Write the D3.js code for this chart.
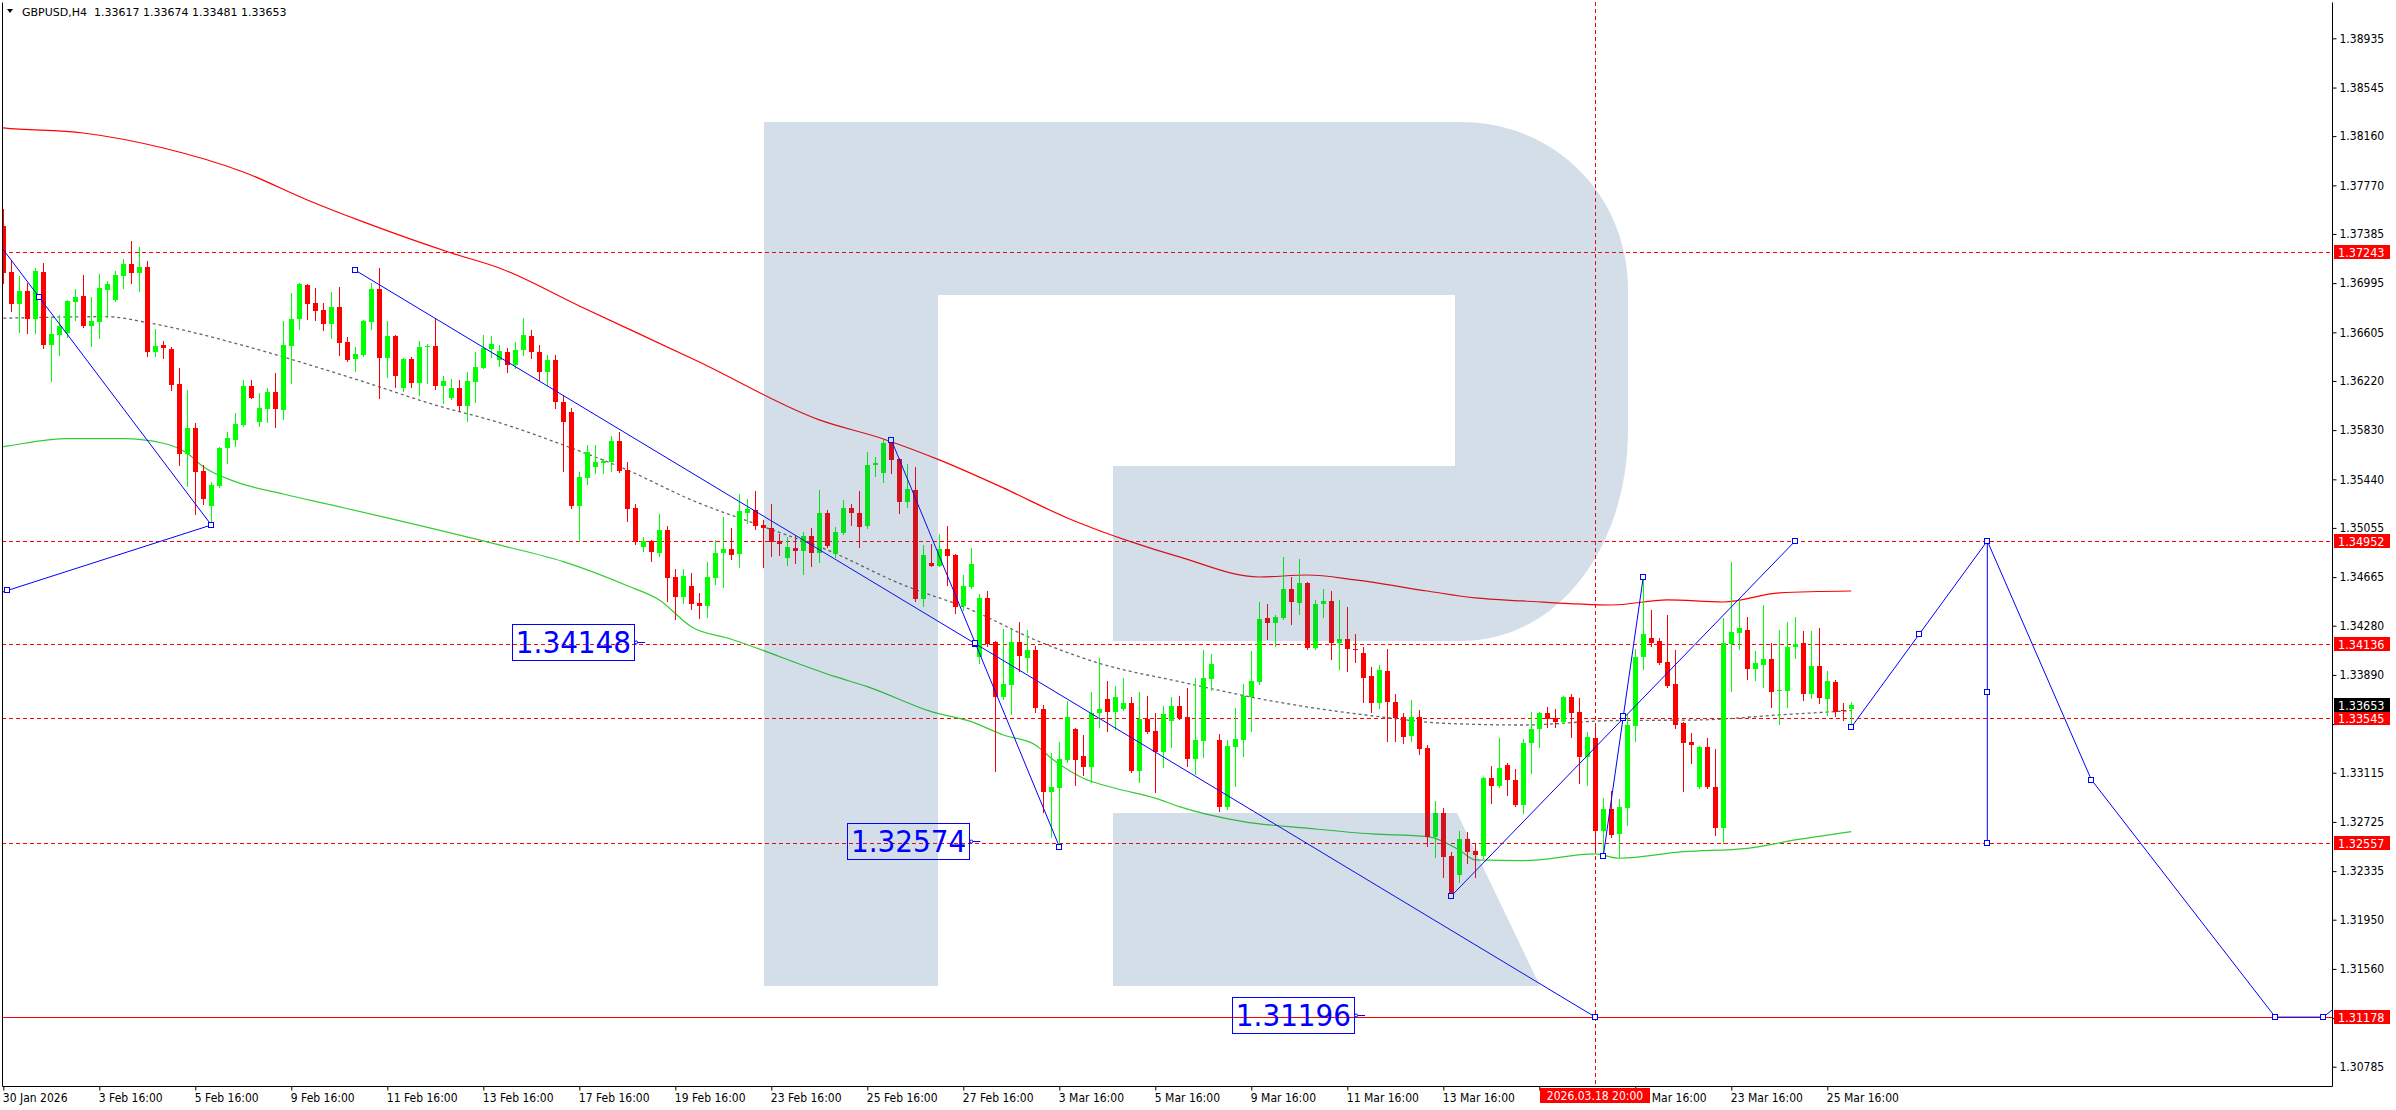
<!DOCTYPE html>
<html><head><meta charset="utf-8">
<script src="https://cdn.jsdelivr.net/npm/d3@7"></script>
<style>
body{margin:0;background:#fff;}
svg{display:block}
text{font-family:"DejaVu Sans Condensed","DejaVu Sans",sans-serif;font-stretch:condensed;}
text.hdr{font-family:"DejaVu Sans",sans-serif;font-stretch:normal;}
</style></head>
<body>
<svg id="c" width="2396" height="1110"></svg>
<script>
// ---------- DATA ----------
const symbolTitle = "GBPUSD,H4";
const lastBar = [1.33617, 1.33674, 1.33481, 1.33653];
// H4 candles [open, high, low, close], bar index = position
const candles = [
[1.37448,1.37583,1.36994,1.37078],[1.37086,1.37171,1.36774,1.36832],[1.36832,1.37052,1.36610,1.36935],[1.36935,1.36994,1.36598,1.36709],
[1.36709,1.37115,1.36602,1.37091],[1.37086,1.37152,1.36484,1.36505],[1.36505,1.36729,1.36220,1.36592],[1.36584,1.36743,1.36426,1.36658],
[1.36598,1.36862,1.36571,1.36856],[1.36848,1.36946,1.36703,1.36885],[1.36893,1.37060,1.36650,1.36655],[1.36655,1.36888,1.36499,1.36695],
[1.36690,1.37068,1.36558,1.36959],[1.36941,1.37012,1.36724,1.36988],[1.36862,1.37091,1.36854,1.37060],[1.37052,1.37184,1.36959,1.37147],
[1.37147,1.37329,1.36999,1.37078],[1.37078,1.37284,1.36933,1.37123],[1.37123,1.37171,1.36420,1.36452],[1.36452,1.36632,1.36420,1.36497],
[1.36505,1.36539,1.36404,1.36479],[1.36473,1.36487,1.36148,1.36188],[1.36196,1.36320,1.35554,1.35641],[1.35641,1.36148,1.35390,1.35845],
[1.35845,1.35889,1.35163,1.35501],[1.35506,1.35554,1.35242,1.35284],[1.35231,1.35422,1.35078,1.35395],[1.35390,1.35697,1.35380,1.35686],
[1.35686,1.35813,1.35567,1.35766],[1.35752,1.35964,1.35704,1.35879],[1.35871,1.36228,1.35863,1.36180],[1.36180,1.36228,1.36083,1.36087],
[1.35897,1.36122,1.35863,1.36003],[1.35998,1.36162,1.35897,1.36135],[1.36130,1.36281,1.35857,1.35998],[1.35990,1.36695,1.35918,1.36505],
[1.36499,1.36915,1.36206,1.36711],[1.36709,1.36999,1.36632,1.36988],[1.36980,1.36990,1.36709,1.36830],[1.36835,1.36959,1.36703,1.36774],
[1.36782,1.36835,1.36624,1.36671],[1.36671,1.36927,1.36563,1.36804],[1.36804,1.36962,1.36426,1.36523],[1.36526,1.36566,1.36378,1.36386],
[1.36392,1.36491,1.36301,1.36434],[1.36426,1.36700,1.36420,1.36695],[1.36690,1.36994,1.36632,1.36946],[1.36946,1.37117,1.36087,1.36404],
[1.36404,1.36695,1.36254,1.36576],[1.36579,1.36584,1.36174,1.36262],[1.36166,1.36400,1.36143,1.36394],[1.36394,1.36412,1.36170,1.36206],
[1.36206,1.36539,1.36109,1.36487],[1.36487,1.36513,1.36206,1.36499],[1.36497,1.36717,1.36154,1.36182],[1.36182,1.36259,1.36043,1.36220],
[1.36087,1.36233,1.36075,1.36162],[1.36162,1.36228,1.35982,1.36024],[1.36024,1.36289,1.35903,1.36220],[1.36214,1.36452,1.36056,1.36328],
[1.36325,1.36584,1.36320,1.36484],[1.36471,1.36576,1.36407,1.36513],[1.36386,1.36505,1.36338,1.36457],[1.36449,1.36481,1.36291,1.36346],
[1.36346,1.36529,1.36323,1.36465],[1.36465,1.36719,1.36426,1.36584],[1.36576,1.36624,1.36402,1.36449],[1.36449,1.36505,1.36228,1.36291],
[1.36291,1.36426,1.36188,1.36386],[1.36386,1.36426,1.36006,1.36053],[1.36053,1.36109,1.35509,1.35897],[1.35974,1.36006,1.35213,1.35231],
[1.35231,1.35496,1.34952,1.35456],[1.35453,1.35712,1.35401,1.35655],[1.35540,1.35712,1.35493,1.35575],[1.35572,1.35599,1.35488,1.35586],
[1.35580,1.35784,1.35509,1.35744],[1.35744,1.35818,1.35500,1.35509],[1.35514,1.35575,1.35112,1.35205],[1.35211,1.35245,1.34928,1.34946],
[1.34906,1.34986,1.34875,1.34954],[1.34954,1.34960,1.34796,1.34862],[1.34859,1.35163,1.34833,1.35039],[1.35039,1.35070,1.34476,1.34661],
[1.34669,1.34730,1.34331,1.34510],[1.34510,1.34727,1.34463,1.34674],[1.34597,1.34696,1.34410,1.34452],[1.34463,1.34537,1.34339,1.34439],
[1.34439,1.34783,1.34352,1.34669],[1.34661,1.34960,1.34608,1.34854],[1.34854,1.35139,1.34589,1.34888],[1.34888,1.35057,1.34807,1.34841],
[1.34849,1.35324,1.34743,1.35192],[1.35176,1.35284,1.35092,1.35203],[1.35197,1.35350,1.35047,1.35073],[1.35078,1.35118,1.34748,1.35052],
[1.35057,1.35245,1.34833,1.34946],[1.34952,1.35007,1.34841,1.34925],[1.34815,1.34981,1.34761,1.34902],[1.34899,1.34999,1.34780,1.34875],
[1.34875,1.35021,1.34690,1.34991],[1.34991,1.35052,1.34756,1.34854],[1.34854,1.35356,1.34788,1.35176],[1.35171,1.35197,1.34900,1.34914],
[1.34849,1.35065,1.34827,1.35025],[1.35017,1.35277,1.35007,1.35211],[1.35211,1.35245,1.35078,1.35171],[1.35171,1.35348,1.34902,1.35065],
[1.35070,1.35655,1.35052,1.35554],[1.35554,1.35620,1.35469,1.35572],[1.35493,1.35752,1.35422,1.35731],[1.35731,1.35752,1.35488,1.35594],
[1.35601,1.35610,1.35176,1.35263],[1.35263,1.35559,1.35223,1.35361],[1.35356,1.35540,1.34479,1.34492],[1.34492,1.34920,1.34436,1.34841],
[1.34780,1.34928,1.34750,1.34756],[1.34756,1.35005,1.34750,1.34888],[1.34888,1.35070,1.34603,1.34835],[1.34841,1.34850,1.34383,1.34431],
[1.34436,1.34682,1.34405,1.34595],[1.34589,1.34899,1.34580,1.34769],[1.34030,1.34532,1.33982,1.34497],[1.34497,1.34555,1.34120,1.34133],
[1.34149,1.34160,1.33131,1.33713],[1.33713,1.34254,1.33700,1.33816],[1.33810,1.34254,1.33581,1.34149],[1.34149,1.34307,1.33924,1.34043],
[1.34027,1.34246,1.33916,1.34088],[1.34088,1.34119,1.33599,1.33626],[1.33620,1.33652,1.32806,1.32965],[1.32965,1.33269,1.32603,1.33000],
[1.32996,1.33361,1.32560,1.33222],[1.33216,1.33686,1.33200,1.33554],[1.33459,1.33470,1.33018,1.33216],[1.33248,1.33414,1.33097,1.33163],
[1.33163,1.33753,1.33044,1.33591],[1.33591,1.34022,1.33475,1.33618],[1.33697,1.33842,1.33448,1.33599],[1.33599,1.33802,1.33459,1.33718],
[1.33618,1.33863,1.33610,1.33665],[1.33665,1.33718,1.33123,1.33131],[1.33131,1.33753,1.33044,1.33539],[1.33539,1.33726,1.33430,1.33440],
[1.33446,1.33591,1.32965,1.33282],[1.33282,1.33644,1.33163,1.33578],[1.33525,1.33718,1.33321,1.33644],[1.33644,1.33723,1.33540,1.33551],
[1.33554,1.33789,1.33171,1.33224],[1.33224,1.33868,1.33103,1.33375],[1.33367,1.34088,1.33242,1.33868],[1.33858,1.34056,1.33771,1.33977],
[1.33375,1.33422,1.32814,1.32846],[1.32846,1.33375,1.32830,1.33327],[1.33321,1.33626,1.33012,1.33382],[1.33375,1.33818,1.33250,1.33726],
[1.33718,1.34080,1.33446,1.33842],[1.33837,1.34466,1.33818,1.34333],[1.34339,1.34452,1.34173,1.34299],[1.34299,1.34365,1.34122,1.34347],
[1.34344,1.34827,1.34330,1.34571],[1.34571,1.34664,1.34291,1.34471],[1.34463,1.34809,1.34371,1.34616],[1.34621,1.34629,1.34096,1.34106],
[1.34106,1.34484,1.34093,1.34452],[1.34450,1.34569,1.34352,1.34476],[1.34476,1.34555,1.34014,1.34146],[1.34146,1.34484,1.33935,1.34173],
[1.34173,1.34426,1.33924,1.34093],[1.34096,1.34212,1.33995,1.34088],[1.34062,1.34109,1.33678,1.33868],[1.33882,1.33951,1.33599,1.33670],
[1.33670,1.33969,1.33626,1.33929],[1.33921,1.34096,1.33369,1.33678],[1.33673,1.33737,1.33369,1.33551],[1.33554,1.33586,1.33348,1.33401],
[1.33409,1.33692,1.33369,1.33554],[1.33554,1.33612,1.33264,1.33303],[1.33309,1.33335,1.32534,1.32608],[1.32608,1.32894,1.32450,1.32794],
[1.32794,1.32838,1.32291,1.32450],[1.32455,1.32489,1.32138,1.32160],[1.32305,1.32653,1.32247,1.32588],[1.32588,1.32648,1.32397,1.32489],
[1.32495,1.32556,1.32291,1.32463],[1.32455,1.33084,1.32440,1.33071],[1.33071,1.33168,1.32878,1.33012],[1.33012,1.33388,1.33000,1.33150],
[1.33176,1.33190,1.32939,1.33058],[1.33058,1.33142,1.32851,1.32859],[1.32859,1.33382,1.32794,1.33348],[1.33348,1.33594,1.33111,1.33462],
[1.33459,1.33594,1.33321,1.33586],[1.33586,1.33638,1.33475,1.33539],[1.33547,1.33618,1.33480,1.33520],[1.33520,1.33725,1.33507,1.33718],
[1.33718,1.33739,1.33401,1.33591],[1.33594,1.33710,1.33031,1.33242],[1.33242,1.33440,1.33018,1.33396],[1.33388,1.33507,1.32489,1.32656],
[1.32656,1.32913,1.32489,1.32828],[1.32828,1.32973,1.32608,1.32622],[1.32630,1.32905,1.32445,1.32841],[1.32838,1.33581,1.32701,1.33493],
[1.33488,1.34093,1.33369,1.34030],[1.34030,1.34667,1.33935,1.34215],[1.34181,1.34405,1.34122,1.34146],[1.34162,1.34181,1.33975,1.33982],
[1.33990,1.34365,1.33792,1.33805],[1.33818,1.34088,1.33467,1.33493],[1.33507,1.33515,1.32973,1.33353],[1.33361,1.33432,1.33190,1.33335],
[1.33000,1.33330,1.32990,1.33321],[1.33321,1.33388,1.32990,1.33000],[1.33000,1.33303,1.32622,1.32680],[1.32680,1.34339,1.32556,1.34141],
[1.34135,1.34788,1.33765,1.34233],[1.34225,1.34502,1.34093,1.34265],[1.34246,1.34347,1.33856,1.33935],[1.33935,1.34082,1.33850,1.33982],
[1.33969,1.34444,1.33792,1.34016],[1.34016,1.34141,1.33638,1.33757],[1.33763,1.34246,1.33501,1.33771],[1.33763,1.34312,1.33634,1.34114],
[1.34114,1.34347,1.34027,1.34133],[1.34146,1.34241,1.33692,1.33739],[1.33739,1.34241,1.33705,1.33961],[1.33961,1.34265,1.33670,1.33710],
[1.33699,1.33921,1.33573,1.33845],[1.33837,1.33850,1.33565,1.33599],[1.33612,1.33665,1.33533,1.33604],[1.33617,1.33674,1.33481,1.33653]
];
// moving averages: [bar index, price]
const maRed = [[-1,1.38232],[0,1.38225],[10,1.38185],[20,1.38066],[30,1.37876],[38,1.37654],[45,1.37480],[56,1.37234],[62,1.37115],[72,1.36814],[87,1.36370],[102,1.35911],[110,1.35760],[117,1.35594],[125,1.35372],[133,1.35134],[141,1.34944],[147,1.34825],[157,1.34666],[163,1.34682],[169,1.34643],[178,1.34555],[184,1.34500],[190,1.34476],[201,1.34444],[208,1.34484],[215,1.34468],[222,1.34540],[231,1.34555]];
const maGreen = [[-1,1.35690],[0,1.35699],[8,1.35762],[15,1.35762],[20,1.35726],[23,1.35647],[25,1.35540],[29,1.35422],[35,1.35324],[41,1.35237],[50,1.35105],[62,1.34920],[70,1.34788],[78,1.34597],[82,1.34484],[86,1.34272],[91,1.34173],[104,1.33876],[108,1.33797],[116,1.33599],[121,1.33520],[125,1.33414],[129,1.33335],[131,1.33230],[135,1.33071],[139,1.32992],[144,1.32913],[147,1.32846],[155,1.32727],[163,1.32675],[171,1.32630],[178,1.32608],[182,1.32503],[184,1.32424],[190,1.32418],[199,1.32471],[202,1.32437],[210,1.32489],[218,1.32516],[224,1.32582],[231,1.32648]];
const maGray = [[0,1.36717],[13,1.36729],[18,1.36682],[29,1.36518],[37,1.36372],[45,1.36214],[54,1.36029],[62,1.35889],[70,1.35712],[78,1.35514],[86,1.35277],[95,1.35065],[103,1.34880],[112,1.34616],[121,1.34405],[129,1.34167],[137,1.33982],[147,1.33837],[159,1.33678],[172,1.33559],[180,1.33507],[190,1.33493],[201,1.33528],[212,1.33533],[222,1.33573],[231,1.33607]];
// drawn trend lines [[bar, price],[bar, price]]
const trendLines = [
  [[-17,1.38687],[26,1.35078]],
  [[-25,1.34040],[26,1.35078]],
  [[44,1.37097],[199,1.31178]],
  [[111,1.35752],[132,1.32530]],
  [[181,1.32138],[224,1.34952]],
  [[200,1.32455],[205,1.34667]]
];
const forecastPath = [[231,1.33475],[248,1.34952],[261,1.33060],[284,1.31178],[290,1.31178],[293,1.31330]];
const forecastBar = [[248,1.34952],[248,1.32557]];
const forecastHandles = [[231,1.33475],[239.5,1.342135],[248,1.34952],[248,1.337545],[248,1.32557],[261,1.33060],[284,1.31178],[290,1.31178]];
// horizontal levels
const dashedLevels = [1.37243, 1.34952, 1.34136, 1.33545, 1.32557];
const solidLevel = 1.31178;
const markerBar = 199, markerLabel = "2026.03.18 20:00";
// price call-outs [bar, price]
const callouts = [[79.6,1.34148],[121.5,1.32574],[169.6,1.31196]];
// axes (labels hidden under the price tags are left blank)
const yTicks = [1.38935,1.38545,1.38160,1.37770,1.37385,1.36995,1.36605,1.36220,1.35830,1.35440,1.35055,1.34665,1.34280,1.33890,1.33500,1.33115,1.32725,1.32335,1.31950,1.31560,1.31170,1.30785];
const yHidden = [1.33500, 1.31170];
const xTickBars = [0,12,24,36,48,60,72,84,96,108,120,132,144,156,168,180,192,204,216,228];
const xTickLabels = ["30 Jan 2026","3 Feb 16:00","5 Feb 16:00","9 Feb 16:00","11 Feb 16:00","13 Feb 16:00","17 Feb 16:00","19 Feb 16:00","23 Feb 16:00","25 Feb 16:00","27 Feb 16:00","3 Mar 16:00","5 Mar 16:00","9 Mar 16:00","11 Mar 16:00","13 Mar 16:00","","Mar 16:00","23 Mar 16:00","25 Mar 16:00"];

// ---------- DRAW ----------
const W=2396, H=1110, L=2, R=2332, T=2, B=1086;
const svg = d3.select("#c");
const x = d3.scaleLinear().domain([-0.1625, 291.0875]).range([L, R]);
const y = d3.scaleLinear().domain([1.30632, 1.39223]).range([B, T]);
const sx = v => Math.round(x(v)) + 0.5;
const sy = v => Math.round(y(v)) + 0.5;
const f5 = d3.format(".5f");

svg.append("rect").attr("width", W).attr("height", H).attr("fill", "#fff");
svg.append("defs").append("clipPath").attr("id", "plot")
  .append("rect").attr("x", L).attr("y", T).attr("width", R - L).attr("height", B - T);
const g = svg.append("g").attr("clip-path", "url(#plot)");

// levels
g.selectAll(".lvl").data(dashedLevels).join("line")
  .attr("x1", L).attr("x2", R).attr("y1", d => sy(d)).attr("y2", d => sy(d))
  .attr("stroke", "#ff0000").attr("stroke-dasharray", "4,3");
g.append("line").attr("x1", L).attr("x2", R).attr("y1", sy(solidLevel)).attr("y2", sy(solidLevel))
  .attr("stroke", "#ff0000");
g.append("line").attr("x1", sx(markerBar)).attr("x2", sx(markerBar)).attr("y1", T).attr("y2", B)
  .attr("stroke", "#ff0000").attr("stroke-dasharray", "4,3");

// moving averages
const ln = d3.line().x(d => x(d[0])).y(d => y(d[1])).curve(d3.curveMonotoneX);
g.append("path").attr("d", ln(maRed)).attr("fill", "none").attr("stroke", "#ff0000").attr("stroke-width", 1.2);
g.append("path").attr("d", ln(maGreen)).attr("fill", "none").attr("stroke", "#32cd32").attr("stroke-width", 1.2);
g.append("path").attr("d", ln(maGray)).attr("fill", "none").attr("stroke", "#666").attr("stroke-width", 1.3).attr("stroke-dasharray", "3,3");

// candles
const cg = g.append("g");
cg.selectAll(".wick").data(candles).join("line")
  .attr("x1", (d, i) => sx(i)).attr("x2", (d, i) => sx(i))
  .attr("y1", d => Math.round(y(d[1]))).attr("y2", d => Math.round(y(d[2])) + 1)
  .attr("stroke", d => d[3] >= d[0] ? "#00ff00" : "#ff0000");
cg.selectAll(".body").data(candles).join("rect")
  .attr("x", (d, i) => Math.round(x(i)) - 2).attr("width", 5)
  .attr("y", d => Math.round(y(Math.max(d[0], d[3]))))
  .attr("height", d => Math.max(1, Math.round(y(Math.min(d[0], d[3]))) - Math.round(y(Math.max(d[0], d[3])))))
  .attr("fill", d => d[3] >= d[0] ? "#00ff00" : "#ff0000");

// trend lines + handles
const blue = "#0000ff";
const lineStraight = d3.line().x(d => x(d[0])).y(d => y(d[1]));
const handles = [];
trendLines.forEach(tl => {
  g.append("path").attr("d", lineStraight(tl)).attr("fill", "none").attr("stroke", blue).attr("stroke-width", 1);
  handles.push(tl[0], tl[1], [(tl[0][0] + tl[1][0]) / 2, (tl[0][1] + tl[1][1]) / 2]);
});
g.append("path").attr("d", lineStraight(forecastPath)).attr("fill", "none").attr("stroke", blue);
g.append("path").attr("d", lineStraight(forecastBar)).attr("fill", "none").attr("stroke", blue);
forecastHandles.forEach(h => handles.push(h));
g.selectAll(".hdl").data(handles).join("rect")
  .attr("x", d => Math.round(x(d[0])) - 2.5).attr("y", d => Math.round(y(d[1])) - 2.5)
  .attr("width", 5).attr("height", 5).attr("fill", "#fff").attr("stroke", blue);

// watermark logo (translucent overlay)
g.append("path")
  .attr("d", "M764,122H1460C1555,122 1628,195 1628,290V430C1628,545 1560,641 1460,641H1113V466H1455V295H938V986H764Z M1113,813H1457L1540,986H1113Z")
  .attr("fill", "rgb(35,90,145)").attr("fill-opacity", 0.2);

// call-outs
const co = svg.append("g");
callouts.forEach(c => {
  const ax = x(c[0]), ay = y(c[1]);
  const t = co.append("text").attr("x", ax - 9).attr("y", ay + 11).attr("text-anchor", "end")
    .attr("font-size", 31).attr("fill", blue).text(f5(c[1]));
  const bb = t.node().getBBox();
  co.append("rect").attr("x", Math.round(ax - 6 - bb.width - 7) + 0.5).attr("y", Math.round(ay - 18) + 0.5)
    .attr("width", Math.round(bb.width + 7)).attr("height", 36).attr("fill", "none").attr("stroke", blue);
  co.append("line").attr("x1", ax - 6).attr("x2", ax + 5).attr("y1", Math.round(ay) + 0.5).attr("y2", Math.round(ay) + 0.5).attr("stroke", blue);
  co.append("circle").attr("cx", ax - 4).attr("cy", Math.round(ay) + 0.5).attr("r", 1.5).attr("fill", "#fff").attr("stroke", blue);
});

// frame
svg.append("path").attr("d", `M${L + 0.5},${T + 0.5}V${B + 0.5}H${R + 0.5}V${T + 0.5}`).attr("fill", "none").attr("stroke", "#000");

// y axis
const yAxis = d3.axisRight(y).tickValues(yTicks).tickSize(4).tickSizeOuter(0)
  .tickFormat(d => yHidden.includes(d) ? "" : f5(d));
const ya = svg.append("g").attr("transform", `translate(${R + 0.5},0)`).call(yAxis);
ya.select(".domain").remove();
ya.selectAll("text").attr("x", 7).attr("font-size", 12).attr("fill", "#000").attr("font-family", null);
ya.selectAll("line").attr("stroke", "#000");

// x axis
const xAxis = d3.axisBottom(x).tickValues(xTickBars).tickSize(4).tickSizeOuter(0).tickFormat((d, i) => xTickLabels[i]);
const xa = svg.append("g").attr("transform", `translate(0,${B + 0.5})`).call(xAxis);
xa.select(".domain").remove();
xa.selectAll("text").attr("text-anchor", "start").attr("x", -1).attr("y", 15).attr("dy", 0).attr("font-size", 12).attr("fill", "#000").attr("font-family", null);
xa.selectAll(".tick").filter(d => d === 204).select("text").attr("x", 16);
xa.selectAll("line").attr("stroke", "#000");

// red marker label on time axis
const mx = Math.round(x(markerBar));
svg.append("rect").attr("x", mx - 55).attr("y", 1088).attr("width", 110).attr("height", 15).attr("fill", "#ff0000");
svg.append("text").attr("x", mx).attr("y", 1100).attr("text-anchor", "middle").attr("font-size", 12).attr("fill", "#fff").text(markerLabel);

// right price tags
const tags = dashedLevels.concat([solidLevel]).map(v => [v, "#ff0000"]).concat([[lastBar[3], "#000000"]]);
tags.forEach(tg => {
  const yy = Math.round(y(tg[0]));
  svg.append("rect").attr("x", R + 2).attr("y", yy - 7).attr("width", 56).attr("height", 14).attr("fill", tg[1]);
  svg.append("text").attr("x", R + 6).attr("y", yy + 4.5).attr("font-size", 12.5).attr("fill", "#fff").text(f5(tg[0]));
});

// header
svg.append("path").attr("d", "M7,9L13,9L10,13Z").attr("fill", "#000");
svg.append("text").attr("class", "hdr").attr("x", 22).attr("y", 16).attr("font-size", 11).attr("fill", "#000")
  .attr("xml:space", "preserve").style("white-space", "pre")
  .text(symbolTitle + "  " + lastBar.map(f5).join(" "));
</script>
</body></html>
